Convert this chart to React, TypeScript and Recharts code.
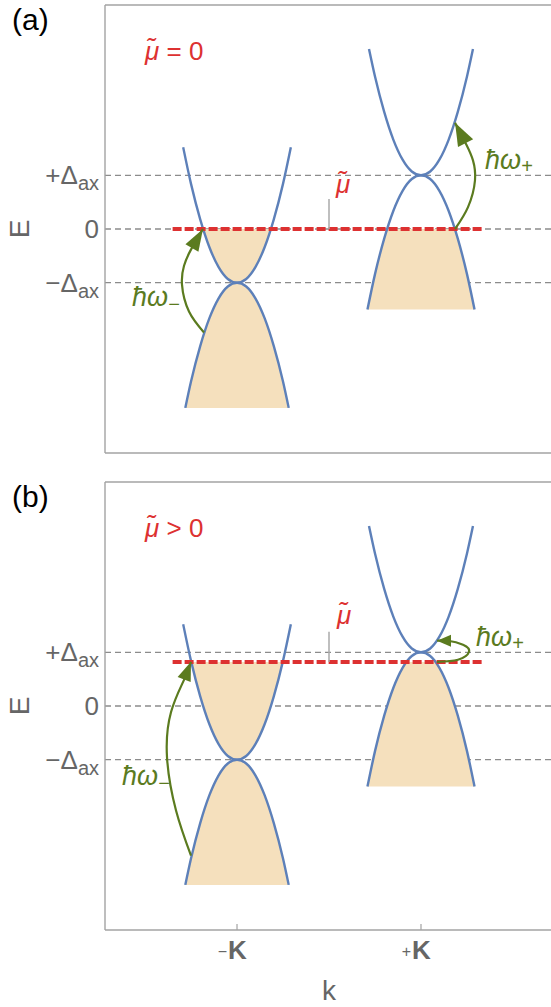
import React from 'react';
import { ComposedChart, Line, Area, XAxis, YAxis, ReferenceLine } from 'recharts';

const FONT = '"Liberation Sans", Arial, sans-serif';
const GRAY_TEXT = '#666666';
const FRAME = '#a3a3a3';
const DASH = '#8c8c8c';
const BLUE = '#5d80b9';
const FILL = '#f5e0bd';
const RED = '#dd3131';
const GREEN = '#5b7b1f';

// axes (E in units of Δax, k in units of K)
const kDomain: [number, number] = [-2.435, 2.511];
const eDomain: [number, number] = [-4.17, 4.17];
const yTickValues = [-1, 0, 1];
const yTickMain = ['\u2212\u0394', '0', '+\u0394'];
const yTickSub = ['ax', '', 'ax'];
const xTickValues = [-1, 1];
const xTickSign = ['\u2212', '+'];
const xTickName = ['K', 'K'];
const levelLines = [-1, 0, 1];

// bands, same in both panels
const minusUpperK = [-1.585, -1.5, -1.4, -1.3, -1.2, -1.1, -1.0, -0.9, -0.8, -0.7, -0.6, -0.5, -0.415];
const minusUpperE = [1.52, 0.84, 0.18, -0.34, -0.71, -0.93, -1.0, -0.93, -0.71, -0.34, 0.18, 0.84, 1.52];
const minusLowerK = [-1.562, -1.5, -1.4, -1.3, -1.2, -1.1, -1.0, -0.9, -0.8, -0.7, -0.6, -0.5, -0.438];
const minusLowerE = [-3.33, -2.84, -2.18, -1.66, -1.29, -1.07, -1.0, -1.07, -1.29, -1.66, -2.18, -2.84, -3.33];
const plusUpperK = [0.435, 0.5, 0.6, 0.7, 0.8, 0.9, 1.0, 1.1, 1.2, 1.3, 1.4, 1.5, 1.565];
const plusUpperE = [3.35, 2.84, 2.18, 1.66, 1.29, 1.07, 1.0, 1.07, 1.29, 1.66, 2.18, 2.84, 3.35];
const plusLowerK = [0.418, 0.5, 0.6, 0.7, 0.8, 0.9, 1.0, 1.1, 1.2, 1.3, 1.4, 1.5, 1.582];
const plusLowerE = [-1.5, -0.84, -0.18, 0.34, 0.71, 0.93, 1.0, 0.93, 0.71, 0.34, -0.18, -0.84, -1.5];
const minusLowerBottom = -3.33;
const plusLowerBottom = -1.5;

// chemical potential
const muA = 0;
const muB = 0.82;
const muLineK = [-1.7, 1.68];
const muMarkK = [0, 0];
const muMarkAE = [0, 0.56];
const muMarkBE = [0.82, 1.38];

// filled states, panel (a)
const fillAMinusK = [-1.368, -1.3, -1.2, -1.1, -1.0, -0.9, -0.8, -0.7, -0.632];
const fillAMinusE = [0, -0.34, -0.71, -0.93, -1.0, -0.93, -0.71, -0.34, 0];
const fillAPlusK = [0.418, 0.5, 0.6, 0.632, 1.368, 1.4, 1.5, 1.582];
const fillAPlusE = [-1.5, -0.84, -0.18, 0, 0, -0.18, -0.84, -1.5];

// filled states, panel (b)
const fillBMinusK = [-1.497, -1.4, -1.3, -1.2, -1.1, -1.0, -0.9, -0.8, -0.7, -0.6, -0.503];
const fillBMinusE = [0.82, 0.18, -0.34, -0.71, -0.93, -1.0, -0.93, -0.71, -0.34, 0.18, 0.82];
const fillBPlusK = [0.418, 0.5, 0.6, 0.7, 0.8, 0.844, 1.156, 1.2, 1.3, 1.4, 1.5, 1.582];
const fillBPlusE = [-1.5, -0.84, -0.18, 0.34, 0.71, 0.82, 0.82, 0.71, 0.34, -0.18, -0.84, -1.5];

// transition arrows
const arrowAMinusK = [-1.359, -1.522, -1.598, -1.576, -1.505, -1.37];
const arrowAMinusE = [-1.926, -1.537, -1.037, -0.685, -0.398, 0];
const arrowAPlusK = [1.37, 1.511, 1.587, 1.565, 1.495, 1.37];
const arrowAPlusE = [0, 0.407, 0.907, 1.278, 1.565, 1.98];
const arrowBMinusK = [-1.5, -1.663, -1.761, -1.717, -1.576, -1.5];
const arrowBMinusE = [-2.785, -1.944, -0.953, -0.112, 0.486, 0.822];
const arrowBPlusK = [1.174, 1.402, 1.522, 1.457, 1.293, 1.174];
const arrowBPlusE = [0.822, 0.86, 1.009, 1.14, 1.215, 1.215];

const xy = (ks: number[], es: number[]) => ks.map((k, i) => ({ k, e: es[i] }));
const fromBottom = (ks: number[], tops: number[], bottom: number) =>
  ks.map((k, i) => ({ k, r: [bottom, tops[i]] }));
const toTop = (ks: number[], lows: number[], top: number) =>
  ks.map((k, i) => ({ k, r: [lows[i], top] }));

const bands = [
  xy(minusUpperK, minusUpperE),
  xy(minusLowerK, minusLowerE),
  xy(plusUpperK, plusUpperE),
  xy(plusLowerK, plusLowerE),
];

const arrowHead = (len: number, half: number) => (props: any) => {
  const { cx, cy, index, points } = props;
  if (!points || index !== points.length - 1) return <g key={`d${index}`} />;
  const prev = points[index - 1];
  const dx = cx - prev.x;
  const dy = cy - prev.y;
  const d = Math.hypot(dx, dy) || 1;
  const ux = dx / d;
  const uy = dy / d;
  const bx = cx - ux * len;
  const by = cy - uy * len;
  const p = `${cx},${cy} ${bx - uy * half},${by + ux * half} ${bx + uy * half},${by - ux * half}`;
  return <polygon key={`d${index}`} points={p} fill={GREEN} stroke="none" />;
};

const YTick = ({ x, y, payload }: any) => {
  const i = yTickValues.indexOf(payload.value);
  return (
    <text x={x} y={y + 9} textAnchor="end" fill={GRAY_TEXT} fontSize={26} fontFamily={FONT}>
      <tspan>{yTickMain[i]}</tspan>
      {yTickSub[i] ? <tspan fontSize={20} dy={6}>{yTickSub[i]}</tspan> : null}
    </text>
  );
};

const XTick = ({ x, y, payload }: any) => {
  const i = xTickValues.indexOf(payload.value);
  return (
    <g>
      <text x={x - 10} y={y + 9} textAnchor="end" fill={GRAY_TEXT} fontSize={16} fontFamily={FONT}>
        {xTickSign[i]}
      </text>
      <text x={x - 9} y={y + 11} textAnchor="start" fill={GRAY_TEXT} fontSize={26} fontWeight="bold" fontFamily={FONT}>
        {xTickName[i]}
      </text>
    </g>
  );
};

interface ArrowSpec {
  data: { k: number; e: number }[];
  len: number;
  half: number;
}

interface PanelProps {
  top: number;
  height: number;
  xAxisHeight: number;
  bottomMargin: number;
  showTickLabels: boolean;
  mu: number;
  muMark: { k: number; e: number }[];
  fills: { k: number; r: number[] }[][];
  arrows: ArrowSpec[];
}

function Panel({ top, height, xAxisHeight, bottomMargin, showTickLabels, mu, muMark, fills, arrows }: PanelProps) {
  const muLine = muLineK.map((k) => ({ k, e: mu }));
  return (
    <div style={{ position: 'absolute', left: 0, top }}>
      <ComposedChart width={565} height={height} margin={{ top: 5, right: 5, bottom: bottomMargin, left: 0 }}>
        <XAxis
          dataKey="k"
          type="number"
          domain={kDomain}
          allowDataOverflow
          ticks={xTickValues}
          interval={0}
          height={xAxisHeight}
          axisLine={{ stroke: FRAME, strokeWidth: 1.4 }}
          tickLine={{ stroke: FRAME, strokeWidth: 1.2 }}
          tickSize={-6}
          tickMargin={24}
          tick={showTickLabels ? <XTick /> : false}
        />
        <YAxis
          type="number"
          domain={eDomain}
          allowDataOverflow
          ticks={yTickValues}
          interval={0}
          width={105}
          tickLine={false}
          tickSize={6}
          tickMargin={0}
          axisLine={{ stroke: FRAME, strokeWidth: 1.4 }}
          tick={<YTick />}
        />
        <ReferenceLine y={eDomain[1]} stroke={FRAME} strokeWidth={1.4} />
        {levelLines.map((v) => (
          <ReferenceLine key={v} y={v} stroke={DASH} strokeWidth={1.3} strokeDasharray="6 4" zIndex={-50} />
        ))}
        {fills.map((f, i) => (
          <Area
            key={`f${i}`}
            data={f}
            dataKey="r"
            type="monotone"
            stroke="none"
            fill={FILL}
            fillOpacity={1}
            dot={false}
            activeDot={false}
            isAnimationActive={false}
          />
        ))}
        {bands.map((b, i) => (
          <Line
            key={`b${i}`}
            data={b}
            dataKey="e"
            type="monotone"
            stroke={BLUE}
            strokeWidth={2.4}
            dot={false}
            activeDot={false}
            isAnimationActive={false}
          />
        ))}
        <Line
          data={muLine}
          dataKey="e"
          type="linear"
          stroke={RED}
          strokeWidth={4}
          strokeDasharray="9 3"
          dot={false}
          activeDot={false}
          isAnimationActive={false}
        />
        <Line
          data={muMark}
          dataKey="e"
          type="linear"
          stroke="#aaaaaa"
          strokeWidth={1.5}
          dot={false}
          activeDot={false}
          isAnimationActive={false}
        />
        {arrows.map((a, i) => (
          <Line
            key={`a${i}`}
            data={a.data}
            dataKey="e"
            type="natural"
            stroke={GREEN}
            strokeWidth={2.2}
            dot={arrowHead(a.len, a.half)}
            activeDot={false}
            isAnimationActive={false}
          />
        ))}
      </ComposedChart>
    </div>
  );
}

const Hw = ({ x, y, sub }: { x: number; y: number; sub: string }) => (
  <text x={x} y={y} fill={GREEN} fontSize={27} fontStyle="italic" fontFamily={FONT}>
    {'\u0127\u03C9'}
    <tspan fontSize={20} dy={sub === '+' ? 4 : 5}>{sub}</tspan>
  </text>
);

export default function App() {
  return (
    <div style={{ position: 'absolute', left: 0, top: 0, width: 551, height: 1007, overflow: 'hidden', background: '#fff' }}>
      <Panel
        top={0}
        height={460}
        xAxisHeight={7}
        bottomMargin={0}
        showTickLabels={false}
        mu={muA}
        muMark={xy(muMarkK, muMarkAE)}
        fills={[
          toTop(fillAMinusK, fillAMinusE, muA),
          fromBottom(minusLowerK, minusLowerE, minusLowerBottom),
          fromBottom(fillAPlusK, fillAPlusE, plusLowerBottom),
        ]}
        arrows={[
          { data: xy(arrowAMinusK, arrowAMinusE), len: 22, half: 7.5 },
          { data: xy(arrowAPlusK, arrowAPlusE), len: 23, half: 8.5 },
        ]}
      />
      <Panel
        top={477}
        height={530}
        xAxisHeight={70}
        bottomMargin={7}
        showTickLabels
        mu={muB}
        muMark={xy(muMarkK, muMarkBE)}
        fills={[
          toTop(fillBMinusK, fillBMinusE, muB),
          fromBottom(minusLowerK, minusLowerE, minusLowerBottom),
          fromBottom(fillBPlusK, fillBPlusE, plusLowerBottom),
        ]}
        arrows={[
          { data: xy(arrowBMinusK, arrowBMinusE), len: 19, half: 7 },
          { data: xy(arrowBPlusK, arrowBPlusE), len: 14, half: 6 },
        ]}
      />
      <svg width={551} height={1007} style={{ position: 'absolute', left: 0, top: 0, pointerEvents: 'none' }}>
        <g fontFamily={FONT}>
          <text x={12} y={30} fontSize={30} fill="#000">(a)</text>
          <text x={12} y={507} fontSize={30} fill="#000">(b)</text>
          <text x={29} y={229} fontSize={28} fill={GRAY_TEXT} textAnchor="middle" transform="rotate(-90 29 229)">E</text>
          <text x={29} y={706} fontSize={28} fill={GRAY_TEXT} textAnchor="middle" transform="rotate(-90 29 706)">E</text>
          <text x={329} y={1000} fontSize={28} fill={GRAY_TEXT} textAnchor="middle">k</text>
          <text x={145} y={60} fontSize={26} fill={RED}>
            <tspan fontStyle="italic">{'\u03BC\u0303'}</tspan> = 0
          </text>
          <text x={145} y={537} fontSize={26} fill={RED}>
            <tspan fontStyle="italic">{'\u03BC\u0303'}</tspan> &gt; 0
          </text>
          <text x={336} y={193} fontSize={26} fill={RED} fontStyle="italic">{'\u03BC\u0303'}</text>
          <text x={337} y={624} fontSize={26} fill={RED} fontStyle="italic">{'\u03BC\u0303'}</text>
        </g>
        <Hw x={132} y={306} sub={'\u2212'} />
        <Hw x={485} y={169} sub="+" />
        <Hw x={122} y={785} sub={'\u2212'} />
        <Hw x={476} y={646} sub="+" />
      </svg>
    </div>
  );
}
